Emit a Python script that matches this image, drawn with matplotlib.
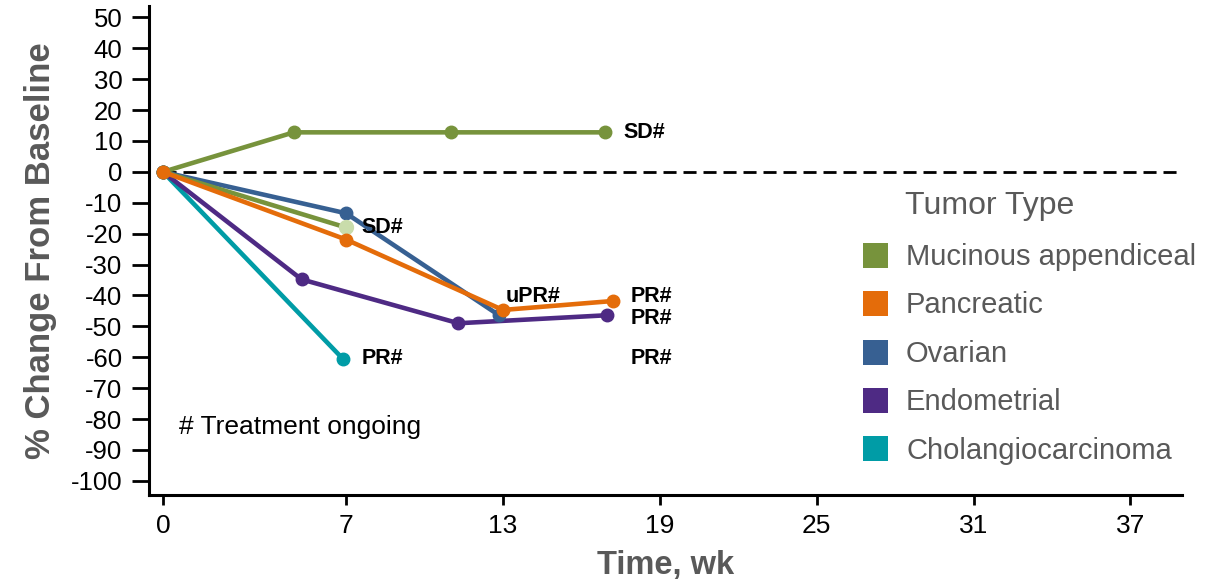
import matplotlib
matplotlib.use('Agg')
import matplotlib.pyplot as plt
from matplotlib.lines import Line2D

# Tumor response data (% change from baseline vs weeks)
mucA_wk = [0, 5.0, 11.0, 16.9]
mucA_pct = [0, 12.8, 12.8, 12.8]
mucB_wk = [0, 7.0]
mucB_pct = [0, -18.0]
panc_wk = [0, 7.0, 13.0, 17.2]
panc_pct = [0, -21.9, -44.7, -41.8]
ovar_wk = [0, 7.0, 12.85]
ovar_pct = [0, -13.4, -46.4]
endo_wk = [0, 5.3, 11.3, 17.0]
endo_pct = [0, -34.8, -49.0, -46.4]
chol_wk = [0, 6.9]
chol_pct = [0, -60.7]

tumorTypes = ['Mucinous appendiceal', 'Pancreatic', 'Ovarian', 'Endometrial', 'Cholangiocarcinoma']
colors = ['#77933C', '#E46C0A', '#376092', '#4E2A84', '#009CA6']

# response labels: (week, pct, text)
respLabels = [(17.6, 12.8, 'SD#'), (7.6, -17.9, 'SD#'), (13.1, -40.4, 'uPR#'),
              (17.9, -40.4, 'PR#'), (17.9, -47.4, 'PR#'), (17.9, -60.4, 'PR#'),
              (7.6, -60.4, 'PR#')]

xticks = [0, 7, 13, 19, 25, 31, 37]
yticks = list(range(-100, 51, 10))

plt.rcParams['font.family'] = ['Liberation Sans', 'DejaVu Sans']
plt.rcParams['axes.unicode_minus'] = False
grey = '#595959'

fig = plt.figure(figsize=(12.16, 5.85), dpi=100)
ax = fig.add_axes([149 / 1216, 90 / 585, 1032.7 / 1216, 489 / 585])

xmax = 38.96
ax.hlines(0, 0, xmax, colors='black', linestyles=(0, (4.7, 2.5)), linewidth=2, zorder=1)

lw = 3.3
ms = 9
ax.plot(chol_wk, chol_pct, '-o', color=colors[4], lw=lw, ms=ms, zorder=2)
ax.plot(endo_wk, endo_pct, '-o', color=colors[3], lw=lw, ms=ms, zorder=3)
ax.plot(ovar_wk, ovar_pct, '-o', color=colors[2], lw=lw, ms=ms, zorder=4)
ax.plot(mucB_wk, mucB_pct, '-', color=colors[0], lw=lw, zorder=5)
ax.plot(mucB_wk[-1:], mucB_pct[-1:], 'o', color='#c9dcab', ms=ms + 1, zorder=5)
ax.plot(mucA_wk, mucA_pct, '-o', color=colors[0], lw=lw, ms=ms, zorder=6)
ax.plot(panc_wk, panc_pct, '-o', color=colors[1], lw=lw, ms=ms, zorder=7)

for wk, pct, txt in respLabels:
    ax.text(wk, pct, txt, fontsize=15.5, fontweight='bold', color='black',
            ha='left', va='center', zorder=8)

ax.text(0.6, -82.7, '# Treatment ongoing', fontsize=19, color='black', ha='left', va='center')

ax.set_xlim(-0.535, xmax)
ax.set_ylim(-104.6, 53.7)
ax.set_xticks(xticks)
ax.set_yticks(yticks)
ax.tick_params(axis='y', length=12, width=2, pad=7, labelsize=18.5)
ax.tick_params(axis='x', length=7, width=2, pad=7, labelsize=19)

for s in ['top', 'right']:
    ax.spines[s].set_visible(False)
for s in ['left', 'bottom']:
    ax.spines[s].set_linewidth(2.2)

ax.set_xlabel('Time, wk', fontsize=23.5, fontweight='bold', color=grey, labelpad=8)
ax.set_ylabel('% Change From Baseline', fontsize=25, fontweight='bold', color=grey, labelpad=10)

handles = [Line2D([], [], linestyle='none', marker='s', markersize=18, color=c, markeredgewidth=0)
           for c in colors]
leg = ax.legend(handles, tumorTypes, loc='upper left', bbox_to_anchor=(862 / 1216, 1 - 243 / 585),
                bbox_transform=fig.transFigure, frameon=False, fontsize=21,
                handlelength=0.86, handletextpad=0.65,
                labelspacing=0.7, borderpad=0, borderaxespad=0)
for t in leg.get_texts():
    t.set_color(grey)
fig.text(905 / 1216, 1 - 206 / 585, 'Tumor Type', fontsize=23, color=grey, ha='left', va='center')

plt.savefig('out.png', dpi=100)
